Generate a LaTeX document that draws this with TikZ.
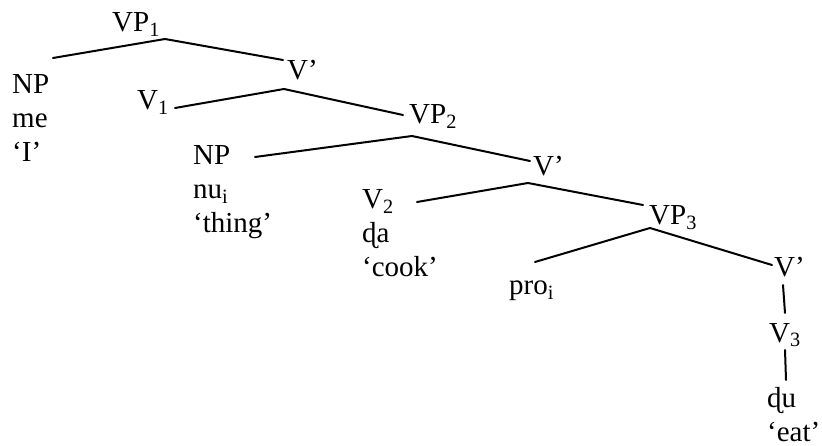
\documentclass[tikz,border=0pt]{standalone}
\usepackage{fontspec}
\setmainfont{Liberation Serif}
\usetikzlibrary{positioning,calc}

\begin{document}
\begin{tikzpicture}[
    x=1pt, y=-1pt,
    cat/.style={
      inner sep=0pt,
      anchor=base west,
      font=\fontsize{29}{34}\selectfont
    },
    stack/.style={
      inner sep=0pt,
      anchor=north west,
      align=left,
      font=\fontsize{29}{34}\selectfont
    },
    branch/.style={
      line width=2pt,
      line cap=round
    }
  ]
  \useasboundingbox (0,0) rectangle (822,446);

  % categories and words
  \node[cat] (vp1) at (112,32) {VP\textsubscript{1}};
  \node[stack] (np1) at (12,74) {NP\\me\\`I'};
  \node[cat] (vbar1) at (287,80) {V'};
  \node[cat] (v1) at (137,110) {V\textsubscript{1}};
  \node[cat] (vp2) at (409,124) {VP\textsubscript{2}};
  \node[stack] (np2) at (193,145) {NP\\nu\textsubscript{i}\\`thing'};
  \node[cat] (vbar2) at (533,176) {V'};
  \node[stack] (v2) at (362,189) {V\textsubscript{2}\\ɖa\\`cook'};
  \node[cat] (vp3) at (649,225) {VP\textsubscript{3}};
  \node[cat] (pro) at (509,295) {pro\textsubscript{i}};
  \node[cat] (vbar3) at (774,277) {V'};
  \node[cat] (v3) at (769,342) {V\textsubscript{3}};
  \node[stack] (du) at (767,387) {ɖu\\`eat'};

  % branches
  \draw[branch] ($(np1.north west)+(41,-16)$) -- ($(vp1.base west)+(53,7)$) -- ($(vbar1.base west)+(-4,-20)$);
  \draw[branch] ($(v1.base west)+(38,-2)$) -- ($(vbar1.base west)+(-3,9)$) -- ($(vp2.base west)+(-6,-9)$);
  \draw[branch] ($(np2.north west)+(62,12)$) -- ($(vp2.base west)+(3,12)$) -- ($(vbar2.base west)+(-3,-15)$);
  \draw[branch] ($(v2.north west)+(55,13)$) -- ($(vbar2.base west)+(-5,7)$) -- ($(vp3.base west)+(-6,-20)$);
  \draw[branch] ($(pro.base west)+(26,-33)$) -- ($(vp3.base west)+(1,3)$) -- ($(vbar3.base west)+(-2,-12)$);
  \draw[branch] ($(vbar3.base west)+(9,8)$) -- ($(v3.base west)+(16,-29)$);
  \draw[branch] ($(v3.base west)+(16,8)$) -- ($(du.north west)+(19,-7)$);
\end{tikzpicture}
\end{document}
